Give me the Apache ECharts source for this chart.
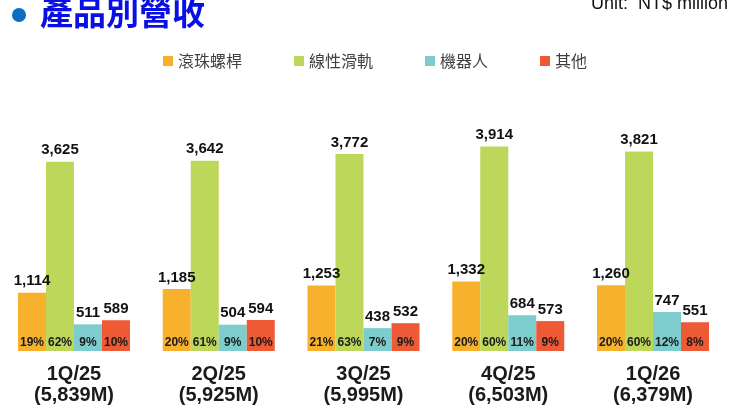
<!DOCTYPE html>
<html>
<head>
<meta charset="utf-8">
<title>產品別營收</title>
<script src="https://cdn.jsdelivr.net/npm/echarts@6/dist/echarts.min.js"></script>
<style>html,body{margin:0;padding:0;background:#fff;}</style>
</head>
<body>
<div id="main" style="width:740px;height:414px;"></div>
<script>
// 季度與總營收
var quarters = ['1Q/25', '2Q/25', '3Q/25', '4Q/25', '1Q/26'];
var totals = ['5,839M', '5,925M', '5,995M', '6,503M', '6,379M'];

// 各產品營收 (NT$ million)
var products = ['滾珠螺桿', '線性滑軌', '機器人', '其他'];
var ballScrew = [1114, 1185, 1253, 1332, 1260];
var linearGuide = [3625, 3642, 3772, 3914, 3821];
var robot = [511, 504, 438, 684, 747];
var others = [589, 594, 532, 573, 551];

// 佔比
var ballScrewPct = ['19%', '20%', '21%', '20%', '20%'];
var linearGuidePct = ['62%', '61%', '63%', '60%', '60%'];
var robotPct = ['9%', '9%', '7%', '11%', '12%'];
var othersPct = ['10%', '10%', '9%', '9%', '8%'];

var colors = ['#F8B12C', '#BDD75A', '#7DCDCF', '#EE5A35'];
var numFont = '"Liberation Sans", Arial, sans-serif';

var values = [ballScrew, linearGuide, robot, others];
var pcts = [ballScrewPct, linearGuidePct, robotPct, othersPct];

var myChart = echarts.init(document.getElementById('main'));

var series = [];
products.forEach(function (name, k) {
    // 柱子 + 底部百分比
    series.push({
        name: name,
        type: 'bar',
        stack: 's' + k,
        barWidth: 28,
        barGap: 0,
        data: values[k],
        itemStyle: { color: colors[k] },
        label: {
            show: true,
            position: 'insideBottom',
            distance: 2,
            formatter: function (p) { return pcts[k][p.dataIndex]; },
            fontFamily: numFont,
            fontSize: 12,
            fontWeight: 'bold',
            color: '#1a1a1a'
        }
    });
    // 頂部數值標籤 (零高度)
    series.push({
        name: '_v' + k,
        type: 'bar',
        stack: 's' + k,
        barWidth: 28,
        barGap: 0,
        data: values[k].map(function () { return 0; }),
        itemStyle: { color: colors[k] },
        label: {
            show: true,
            position: 'top',
            distance: 4,
            formatter: function (p) { return values[k][p.dataIndex].toLocaleString('en-US'); },
            fontFamily: numFont,
            fontSize: 15,
            fontWeight: 'bold',
            color: '#111'
        }
    });
});

var option = {
    animation: false,
    textStyle: { fontFamily: '"Noto Sans CJK TC", sans-serif' },
    graphic: [
        { type: 'circle', shape: { cx: 19, cy: 15, r: 7 }, style: { fill: '#0B6EC0' } },
        { type: 'text', x: 40, y: 12, style: { text: '產品別營收', font: 'bold 33px "Noto Sans CJK TC"', fill: '#0A0FE6', verticalAlign: 'middle' } },
        { type: 'text', x: 728, y: 4, style: { text: 'Unit:  NT$ million', font: '18px "Liberation Sans"', fill: '#111', align: 'right', verticalAlign: 'middle' } }
    ],
    legend: {
        data: products,
        left: 158,
        top: 48,
        icon: 'rect',
        itemWidth: 10,
        itemHeight: 10,
        itemGap: 52,
        textStyle: { fontSize: 16, color: '#404040', fontFamily: '"Noto Sans CJK TC", sans-serif' }
    },
    grid: { left: 1.6, right: 14.6, top: 116, bottom: 63 },
    xAxis: {
        type: 'category',
        data: quarters,
        axisLine: { show: false },
        axisTick: { show: false },
        axisLabel: {
            interval: 0,
            margin: 13,
            formatter: function (v, i) { return v + '\n(' + totals[i] + ')'; },
            fontFamily: numFont,
            fontSize: 20,
            fontWeight: 'bold',
            lineHeight: 21,
            color: '#1a1a1a'
        }
    },
    yAxis: {
        type: 'value',
        min: 0,
        max: 4500,
        show: false,
        splitLine: { show: false }
    },
    series: series
};

myChart.setOption(option);
</script>
</body>
</html>
